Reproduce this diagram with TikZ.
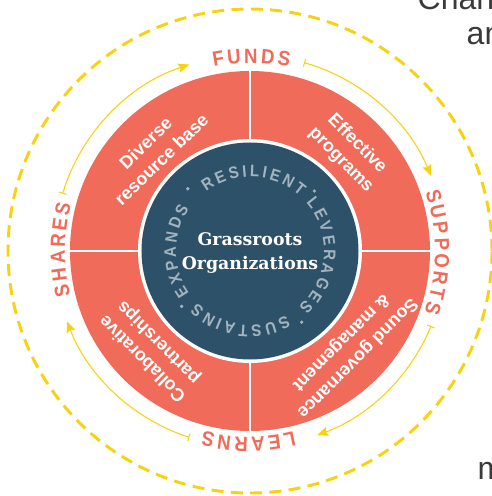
\documentclass[tikz,border=0pt]{standalone}
\usepackage{fontspec}
\usepackage{xcolor}
\usepackage{tikz}
\setmainfont{Liberation Sans}
\newfontfamily\ringfont{Liberation Sans}[FakeStretch=0.9]
\newfontfamily\slabfont{DejaVu Serif}
\usetikzlibrary{decorations.text,arrows.meta}

\definecolor{salmon}{HTML}{F06B59}
\definecolor{navy}{HTML}{2D5169}
\definecolor{gold}{HTML}{F8D10F}
\definecolor{mist}{HTML}{A3B4C0}
\definecolor{ink}{HTML}{3A3A3A}

\tikzset{
  cycle arrow/.style={gold, line width=0.8pt,
    {Bar[width=6pt]}-{Stealth[length=8.5pt,width=7pt,inset=1.5pt]}},
  wedge text/.style={white, font=\bfseries\fontsize{13.5}{17}\selectfont, align=center},
  outer word/.style={decorate, decoration={text along path, text align=center,
    text={|\ringfont\bfseries\fontsize{15.5}{17}\selectfont\color{salmon}\kern2.2pt|#1}}},
  inner word/.style={decorate, decoration={text along path, text align=center,
    text={|\ringfont\bfseries\fontsize{12.5}{14}\selectfont\color{mist}\kern2.2pt|#1}}},
  page text/.style={ink, font=\fontsize{24}{28}\selectfont, anchor=base west},
}

\begin{document}
\begin{tikzpicture}[x=0.75pt,y=0.75pt]
\useasboundingbox (-250,-245) rectangle (242,251);
% dashed outer loop
\draw[gold, line width=2.2pt, dash pattern=on 9pt off 5.5pt] (0,0) circle[radius=242];
% ring of four wedges
\fill[salmon] (0,0) circle[radius=180];
\draw[white, line width=2.2pt] (-181,0) -- (181,0);
\draw[white, line width=2.2pt] (0,-181) -- (0,181);
\fill[white] (0,0) circle[radius=112];
\fill[navy] (0,0) circle[radius=108.5];
% cycle arrows
\draw[cycle arrow] (163:196) arc[start angle=163, end angle=108, radius=196];
\draw[cycle arrow] (74:196) arc[start angle=74, end angle=22.5, radius=196];
\draw[cycle arrow] (-22.5:196) arc[start angle=-22.5, end angle=-70, radius=196];
\draw[cycle arrow] (-108:196) arc[start angle=-108, end angle=-159, radius=196];
% outer words
\path[outer word=FUNDS] (130:188) arc[start angle=130, end angle=50, radius=188];
\path[outer word=SUPPORTS] (40:185) arc[start angle=40, end angle=-40, radius=185];
\path[outer word=LEARNS] (-50:186) arc[start angle=-50, end angle=-130, radius=186];
\path[outer word=SHARES] (220:185) arc[start angle=220, end angle=140, radius=185];
% wedge labels
\node[wedge text, rotate=44] (diverse) at (134:139) {Diverse\\resource base};
\node[wedge text, rotate=-45] (effective) at (45:140) {Effective\\programs};
\node[wedge text, rotate=-135] (sound) at (-45:140) {Sound governance\\\& management};
\node[wedge text, rotate=135] (collab) at (225:140) {Collaborative\\partnerships};
% inner words
\path[inner word=RESILIENT] (148:74) arc[start angle=148, end angle=28, radius=74];
\path[inner word=LEVERAGES] (57:74) arc[start angle=57, end angle=-63, radius=74];
\path[inner word=SUSTAINS] (-37:74) arc[start angle=-37, end angle=-157, radius=74];
\path[inner word=EXPANDS] (241:74) arc[start angle=241, end angle=121, radius=74];
\fill[mist] (135:88) circle[radius=1.8];
\fill[mist] (43:88) circle[radius=1.8];
\fill[mist] (-54:88) circle[radius=1.8];
\fill[mist] (219:88) circle[radius=1.8];
% centre
\node[white, font=\slabfont\bfseries\fontsize{13}{17.5}\selectfont, align=center]
  (grassroots) at (0,-2) {Grassroots\\Organizations};
% page text around the figure
\node[page text] (chang) at (163,241) {Chang};
\node[page text] (an) at (212,206) {an};
\node[page text] (m) at (223,-228) {m};
\end{tikzpicture}
\end{document}
